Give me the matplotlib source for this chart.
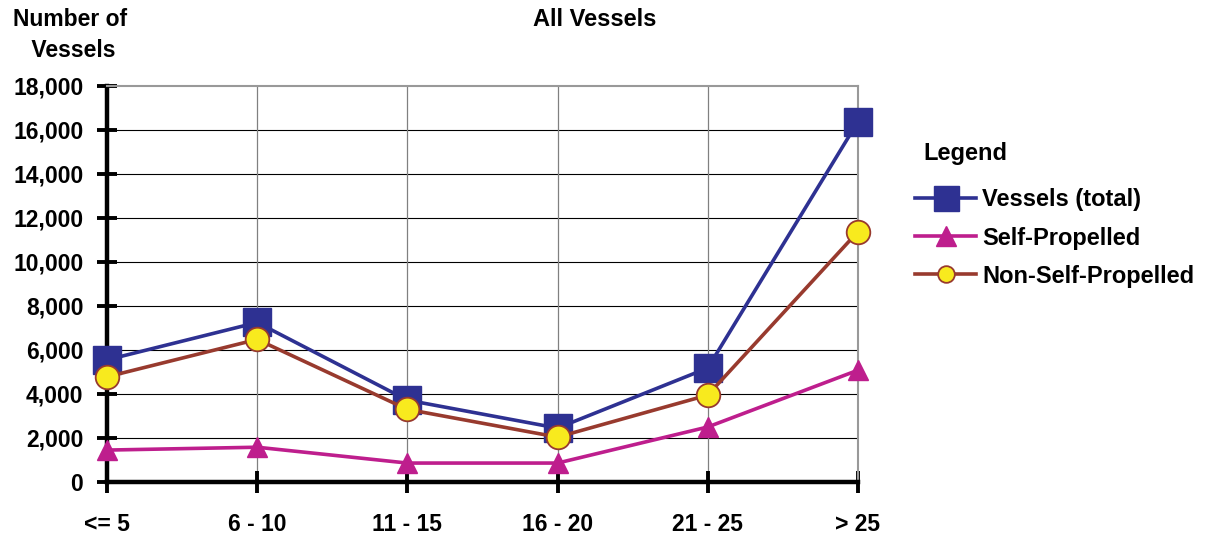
import numpy as np
import matplotlib.pyplot as plt
from matplotlib.lines import Line2D

plt.rcParams['font.family'] = ['Liberation Sans', 'DejaVu Sans']
plt.rcParams['font.weight'] = 'bold'

# data
categories = ['<= 5', '6 - 10', '11 - 15', '16 - 20', '21 - 25', '> 25']
vessels_total = [5550, 7250, 3720, 2450, 5180, 16380]
self_propelled = [1450, 1580, 860, 860, 2500, 5080]
non_self_propelled = [4780, 6480, 3300, 2040, 3950, 11380]
series_names = ['Vessels (total)', 'Self-Propelled', 'Non-Self-Propelled']

navy = '#2E3192'
magenta = '#BE1E8D'
brown = '#983A2E'
yellow = '#F8EA1E'

fig = plt.figure(figsize=(12.06, 5.35), dpi=100)
ax = fig.add_axes([0.0887, 0.0991, 0.6227, 0.7402])

x = np.arange(len(categories))
ax.plot(x, vessels_total, color=navy, lw=2.6, marker='s', markersize=20,
        markerfacecolor=navy, markeredgecolor=navy, clip_on=False, zorder=5)
ax.plot(x, self_propelled, color=magenta, lw=2.6, marker='^', markersize=15,
        markerfacecolor=magenta, markeredgecolor=magenta, clip_on=False, zorder=5)
ax.plot(x, non_self_propelled, color=brown, lw=2.6, marker='o', markersize=17,
        markerfacecolor=yellow, markeredgecolor=brown, markeredgewidth=1.3,
        clip_on=False, zorder=6)

ax.set_xlim(0, 5)
ax.set_ylim(0, 18000)
ax.set_yticks(np.arange(0, 18001, 2000))
ax.set_yticklabels(['{:,}'.format(v) for v in range(0, 18001, 2000)])
ax.set_xticks(x)
ax.set_xticklabels(categories)

for y in range(2000, 18000, 2000):
    ax.axhline(y, color='black', lw=0.8, zorder=1)
for xi in x[1:-1]:
    ax.axvline(xi, color='#808080', lw=0.9, zorder=1)

ax.spines['left'].set_linewidth(3.2)
ax.spines['bottom'].set_linewidth(3.2)
ax.spines['top'].set_color('#999999')
ax.spines['right'].set_color('#999999')
ax.spines['top'].set_linewidth(1.5)
ax.spines['right'].set_linewidth(1.5)

ax.tick_params(axis='y', direction='inout', length=14, width=2.8, labelsize=16.5, pad=10)
ax.tick_params(axis='x', direction='inout', length=16, width=2.8, labelsize=16.5, pad=14)
for lab in ax.get_xticklabels() + ax.get_yticklabels():
    lab.set_fontweight('bold')

fig.text(0.058, 0.985, 'Number of\n Vessels', fontsize=16.5, fontweight='bold',
         ha='center', va='top', linespacing=1.45)
fig.text(0.493, 0.985, 'All Vessels', fontsize=17, fontweight='bold', ha='center', va='top')

# legend handles (smaller markers than the plot)
handles = [
    Line2D([], [], color=navy, lw=2.6, marker='s', markersize=18, markerfacecolor=navy),
    Line2D([], [], color=magenta, lw=2.6, marker='^', markersize=14, markerfacecolor=magenta),
    Line2D([], [], color=brown, lw=2.6, marker='o', markersize=12, markerfacecolor=yellow,
           markeredgecolor=brown, markeredgewidth=1.3),
]
leg = fig.legend(handles, series_names, loc='upper left', bbox_to_anchor=(0.749, 0.757),
                 frameon=False, borderpad=0, title='Legend',
                 title_fontproperties={'weight': 'bold', 'size': 17},
                 prop={'weight': 'bold', 'size': 17}, handlelength=2.6,
                 labelspacing=0.64, handletextpad=0.25)
leg._legend_box.align = 'left'
leg._legend_box.sep = 17
leg.get_title().set_position((8, 0))

fig.savefig('out.png', dpi=100)
